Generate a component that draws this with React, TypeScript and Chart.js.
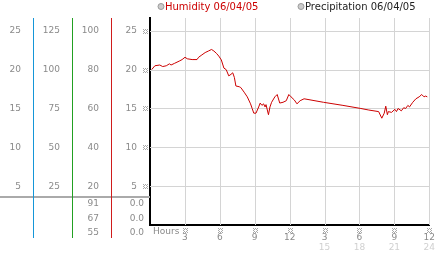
import React, { useEffect, useRef } from "react";
import { Chart, registerables } from "chart.js";

Chart.register(...registerables);

// ---- data ----
const hours = [
  0.14, 0.42, 0.84, 1.09, 1.4, 1.67, 1.81, 2.09, 2.51, 2.76, 3.01, 3.2, 3.62, 4.04, 4.18, 4.46, 4.74,
  5.02, 5.29, 5.49, 5.71, 5.91, 6.13, 6.35, 6.55, 6.77, 6.96, 7.11, 7.25, 7.38, 7.67, 7.8, 8.09, 8.36,
  8.64, 8.78, 8.92, 9.11, 9.34, 9.47, 9.62, 9.76, 9.89, 9.97, 10.18, 10.31, 10.45, 10.73, 10.93, 11.15,
  11.43, 11.71, 11.93, 12.12, 12.4, 12.63, 12.9, 13.24, 14.91, 16.58, 18.12, 18.81, 19.65, 19.92, 20.13,
  20.26, 20.4, 20.48, 20.76, 21.04, 21.18, 21.32, 21.6, 21.8, 21.97, 22.16, 22.3, 22.58, 22.85, 23.13,
  23.35, 23.55, 23.69, 23.83,
];
const humidity = [
  20.0, 20.5, 20.6, 20.4, 20.5, 20.75, 20.6, 20.8, 21.1, 21.3, 21.6, 21.4, 21.3, 21.3, 21.6, 21.9, 22.2,
  22.4, 22.6, 22.4, 22.1, 21.75, 21.25, 20.2, 20.0, 19.2, 19.4, 19.6, 19.0, 17.9, 17.8, 17.7, 17.1, 16.5,
  15.6, 15.0, 14.4, 14.4, 15.2, 15.7, 15.4, 15.6, 15.2, 15.5, 14.2, 15.2, 15.8, 16.5, 16.8, 15.7,
  15.8, 16.0, 16.8, 16.5, 16.1, 15.6, 16.0, 16.25, 15.8, 15.4, 15.0, 14.8, 14.6, 13.75, 14.4,
  15.3, 14.2, 14.6, 14.5, 14.9, 14.6, 15.0, 14.7, 15.1, 15.0, 15.4, 15.2, 15.8, 16.25, 16.5,
  16.8, 16.5, 16.6, 16.5,
];
const legendLabels = ["Humidity 06/04/05", "Precipitation 06/04/05"];
const legendColors = ["#cc0000", "#222222"];
const hourTicks = [3, 6, 9, 12, 15, 18, 21, 24];
const tableCol3 = ["91", "67", "55"];
const tableCol4 = ["0.0", "0.0", "0.0"];
const yTicks = [5, 10, 15, 20, 25];
const yMax = 26.6;

const FONT = '"DejaVu Sans", Verdana, sans-serif';
const GREY = "#8a8a8a";
const GRID = "#d4d4d4";

function drawMark(ctx: CanvasRenderingContext2D, cx: number, cy: number) {
  ctx.save();
  ctx.fillStyle = "#a8a8a8";
  const pts = [
    [-2, -2], [0, -2], [2, -2],
    [-1, -1], [1, -1],
    [-2, 0], [2, 0],
    [-1, 1], [1, 1],
    [-2, 2], [0, 2], [2, 2],
  ];
  const bx = Math.round(cx);
  const by = Math.round(cy);
  for (const [dx, dy] of pts) ctx.fillRect(bx + dx, by + dy, 1, 1);
  ctx.restore();
}

const gridPlugin = {
  id: "crispGrid",
  beforeDatasetsDraw(chart: any) {
    const ctx: CanvasRenderingContext2D = chart.ctx;
    const { x, y } = chart.scales;
    const area = chart.chartArea;
    const top = Math.round(area.top);
    const bottom = Math.round(area.bottom);
    const left = Math.round(area.left);
    const right = Math.round(area.right);
    ctx.save();
    ctx.fillStyle = GRID;
    for (const h of hourTicks) {
      const px = Math.round(x.getPixelForValue(h));
      ctx.fillRect(px, top, 1, bottom - top);
    }
    for (const v of yTicks) {
      const py = Math.round(y.getPixelForValue(v));
      ctx.fillRect(left, py, right - left + 1, 1);
    }
    ctx.restore();
  },
};

const decor = {
  id: "decor",
  afterDraw(chart: any) {
    const ctx: CanvasRenderingContext2D = chart.ctx;
    const { c1, c2, c3, y, x } = chart.scales;
    const area = chart.chartArea;
    ctx.save();
    // separator line of left table
    ctx.fillStyle = "#aaaaaa";
    ctx.fillRect(0, 196, area.left, 2);
    // coloured column lines
    const cols: [any, string][] = [
      [c1, "#1596d8"],
      [c2, "#22a022"],
      [c3, "#d01c1c"],
    ];
    for (const [s, col] of cols) {
      ctx.fillStyle = col;
      ctx.fillRect(Math.round(s.right), Math.round(area.top), 1, Math.round(area.bottom - area.top) + 13);
    }
    // table values
    ctx.font = `9px ${FONT}`;
    ctx.fillStyle = GREY;
    ctx.textBaseline = "middle";
    ctx.textAlign = "right";
    const rowsY = [204, 218.5, 232.5];
    tableCol3.forEach((t, i) => ctx.fillText(t, c3.right - 12, rowsY[i]));
    tableCol4.forEach((t, i) => ctx.fillText(t, y.right - 6, rowsY[i]));
    // Hours label
    ctx.textAlign = "left";
    ctx.fillText("Hours", area.left + 3, 232);
    // marks
    for (const v of yTicks) drawMark(ctx, y.right - 5, y.getPixelForValue(v));
    for (const h of hourTicks) drawMark(ctx, x.getPixelForValue(h), 230);
    // legend
    const lx = [161, 301];
    ctx.font = `10px ${FONT}`;
    legendLabels.forEach((t, i) => {
      ctx.beginPath();
      ctx.arc(lx[i], 6.5, 3, 0, Math.PI * 2);
      ctx.fillStyle = "#cccccc";
      ctx.fill();
      ctx.strokeStyle = "#999999";
      ctx.lineWidth = 1;
      ctx.stroke();
      ctx.fillStyle = legendColors[i];
      ctx.textAlign = "left";
      ctx.textBaseline = "middle";
      ctx.fillText(t, lx[i] + 4, 7);
    });
    ctx.restore();
  },
};

function colAxis(weight: number, width: number, factor: number, step: number) {
  return {
    type: "linear",
    position: "left",
    weight,
    min: 0,
    max: yMax * factor,
    grid: { display: false, drawTicks: false },
    border: { display: false },
    ticks: {
      stepSize: step,
      includeBounds: false,
      padding: 12,
      color: GREY,
      font: { family: FONT, size: 9 },
      callback: (v: number) => (v === 0 ? "" : String(v)),
    },
    afterFit: (s: any) => {
      s.width = width;
    },
  };
}

export default function App() {
  const ref = useRef<HTMLCanvasElement>(null);
  useEffect(() => {
    if (!ref.current) return;
    const data = hours.map((h, i) => ({ x: h, y: humidity[i] }));
    const chart = new Chart(ref.current, {
      type: "line",
      data: {
        datasets: [
          {
            label: legendLabels[0],
            data,
            borderColor: "#cc0000",
            borderWidth: 1,
            pointRadius: 0,
            tension: 0,
          },
        ],
      },
      options: {
        responsive: false,
        animation: false,
        layout: { padding: { top: 13, right: 5, left: 0, bottom: 0 } },
        plugins: { legend: { display: false }, tooltip: { enabled: false } },
        scales: {
          c1: colAxis(3, 33, 1, 5),
          c2: colAxis(2, 39, 5, 25),
          c3: colAxis(1, 39, 4, 20),
          y: {
            type: "linear",
            position: "left",
            weight: 0,
            min: 0,
            max: yMax,
            grid: { drawOnChartArea: false, drawTicks: false },
            border: { color: "#000000", width: 2 },
            ticks: {
              stepSize: 5,
              includeBounds: false,
              padding: 13,
              color: GREY,
              font: { family: FONT, size: 9 },
              callback: (v: number) => (v === 0 ? "" : String(v)),
            },
            afterFit: (s: any) => {
              s.width = 39;
            },
          },
          x: {
            type: "linear",
            position: "bottom",
            weight: 0,
            min: 0,
            max: 24,
            grid: { drawOnChartArea: false, drawTicks: false },
            border: { color: "#000000", width: 2 },
            ticks: {
              stepSize: 3,
              autoSkip: false,
              maxRotation: 0,
              padding: 7,
              color: GREY,
              font: { family: FONT, size: 9 },
              callback: (v: number) => (v === 0 ? "" : String(((v - 1) % 12) + 1)),
            },
            afterFit: (s: any) => {
              s.height = 17;
            },
          },
          x2: {
            type: "linear",
            position: "bottom",
            weight: 1,
            min: 0,
            max: 24,
            grid: { display: false, drawTicks: false },
            border: { display: false },
            ticks: {
              stepSize: 3,
              autoSkip: false,
              maxRotation: 0,
              padding: 0,
              color: "#d0d0d0",
              font: { family: FONT, size: 9 },
              callback: (v: number) => (v >= 15 ? String(v) : ""),
            },
            afterFit: (s: any) => {
              s.height = 11;
            },
          },
        } as any,
      },
      plugins: [gridPlugin, decor],
    } as any);
    return () => chart.destroy();
  }, []);
  return (
    <canvas
      ref={ref}
      width={442}
      height={253}
      style={{ position: "absolute", left: 0, top: 0, display: "block", background: "#fff" }}
    />
  );
}
